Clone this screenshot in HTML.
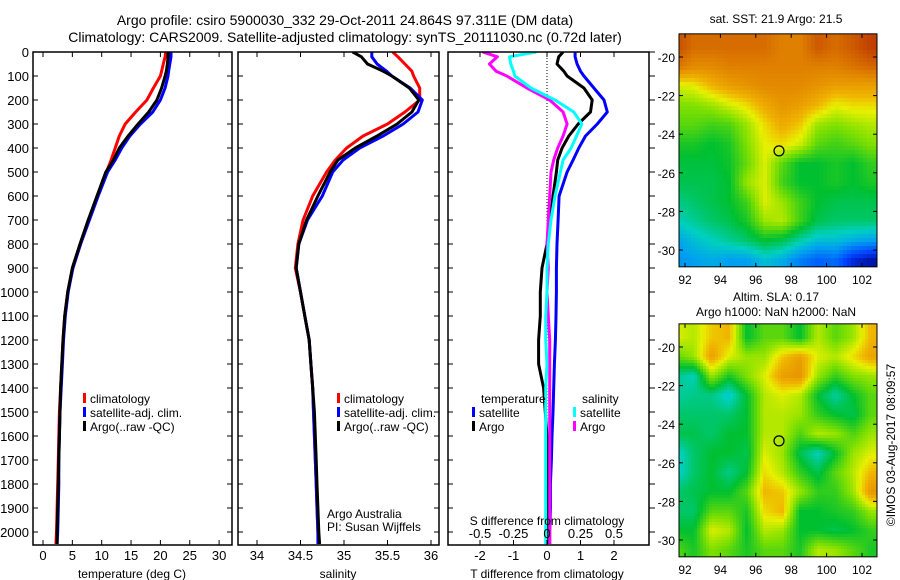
<!DOCTYPE html>
<html><head><meta charset="utf-8">
<style>
body{margin:0;background:#fff;}
svg{display:block;font-family:"Liberation Sans",sans-serif;}
text{fill:#000;}
</style></head>
<body>
<svg id="fig" width="900" height="580" viewBox="0 0 900 580" xmlns="http://www.w3.org/2000/svg">
<defs>
<clipPath id="c1"><rect x="33" y="52" width="199" height="493"/></clipPath>
<clipPath id="c2"><rect x="238" y="52" width="201" height="493"/></clipPath>
<clipPath id="c3"><rect x="448" y="52" width="201" height="493"/></clipPath>
</defs>
<text x="345" y="25" font-size="14" text-anchor="middle">Argo profile: csiro 5900030_332 29-Oct-2011 24.864S 97.311E (DM data)</text>
<text x="345" y="42" font-size="14" text-anchor="middle">Climatology: CARS2009. Satellite-adjusted climatology: synTS_20111030.nc (0.72d later)</text>
<g id="p1"></g>
<g id="p2"></g>
<g id="p3"></g>
<g id="m1"></g>
<g id="m2"></g>
<text x="776" y="23" font-size="12" text-anchor="middle">sat. SST: 21.9 Argo: 21.5</text>
<text x="776" y="301" font-size="12" text-anchor="middle">Altim. SLA: 0.17</text>
<text x="776" y="316" font-size="12" text-anchor="middle">Argo h1000: NaN h2000: NaN</text>
<text transform="translate(895,445) rotate(-90)" font-size="12" text-anchor="middle">©IMOS 03-Aug-2017 08:09:57</text>
</svg>
<script>
const depths=[0,20,50,80,100,150,200,250,300,350,400,450,500,600,700,800,900,1000,1100,1200,1300,1400,1500,1600,1700,1800,1900,2000,2050];
const tempClim=[20.9,20.8,20.5,20.2,20.0,18.8,17.7,15.8,14.0,13.0,12.3,11.6,10.8,9.3,7.8,6.4,5.1,4.2,3.7,3.4,3.2,3.0,2.8,2.7,2.6,2.5,2.4,2.3,2.2];
const tempSat=[21.8,21.8,21.6,21.4,21.3,20.8,20.0,18.7,16.6,14.8,13.4,12.3,11.0,9.4,7.9,6.4,5.1,4.3,3.8,3.5,3.3,3.1,2.9,2.8,2.7,2.7,2.6,2.5,2.4];
const tempArgo=[21.3,21.3,21.2,21.0,20.8,20.2,19.4,18.0,16.2,14.5,13.0,12.0,10.7,9.2,7.7,6.3,5.0,4.2,3.7,3.4,3.2,3.0,2.9,2.8,2.7,2.6,2.5,2.4,2.4];
const salClim=[35.56,35.62,35.7,35.78,35.8,35.87,35.87,35.7,35.5,35.22,35.03,34.9,34.8,34.64,34.53,34.47,34.44,34.5,34.55,34.6,34.62,34.64,34.65,34.66,34.67,34.68,34.69,34.7,34.71];
const salSat=[35.32,35.32,35.38,35.49,35.55,35.76,35.9,35.85,35.68,35.45,35.18,34.99,34.87,34.75,34.58,34.48,34.45,34.5,34.55,34.6,34.62,34.64,34.65,34.66,34.67,34.68,34.69,34.7,34.7];
const salArgo=[35.1,35.2,35.27,35.45,35.55,35.75,35.86,35.78,35.61,35.38,35.13,34.93,34.84,34.7,34.57,34.48,34.45,34.5,34.55,34.6,34.62,34.64,34.66,34.67,34.68,34.69,34.7,34.71,34.72];
const dTempSat=[0.84,0.84,0.9,1.0,1.1,1.4,1.7,1.8,1.5,1.15,0.95,0.78,0.6,0.36,0.33,0.3,0.28,0.28,0.27,0.25,0.22,0.2,0.18,0.15,0.13,0.1,0.1,0.08,0.08];
const dTempArgo=[0.48,0.35,0.3,0.5,0.6,1.1,1.35,1.3,0.93,0.65,0.45,0.32,0.28,0.18,0.1,0.0,-0.15,-0.2,-0.2,-0.25,-0.25,-0.1,-0.05,0.0,0.02,0.03,0.03,0.05,0.05];
const dSalSat=[-0.08,-0.28,-0.27,-0.25,-0.24,-0.12,0.06,0.2,0.26,0.22,0.18,0.12,0.1,0.06,0.03,0.01,0,0,-0.01,-0.01,0,-0.01,-0.01,-0.01,-0.01,-0.01,-0.01,-0.01,-0.01];
const dSalArgo=[-0.48,-0.37,-0.43,-0.38,-0.3,-0.15,0.02,0.12,0.15,0.12,0.08,0.05,0.03,0.02,0.01,0,0.01,0,0.01,0.02,0.02,0.02,0.02,0.02,0.02,0.02,0.02,0.02,0.02];
const depthTicks=[0,100,200,300,400,500,600,700,800,900,1000,1100,1200,1300,1400,1500,1600,1700,1800,1900,2000];
const tempTicks=[0,5,10,15,20,25,30];
const salTicks=[34,34.5,35,35.5,36];
const dTempTicks=[-2,-1,0,1,2];
const dSalTicks=[-0.5,-0.25,0,0.25,0.5];
const dSalTickLabels=["-0.5","-0.25","0","0.25","0.5"];
const mapLons=[92,94,96,98,100,102];
const mapLats=[-20,-22,-24,-26,-28,-30];
const sstGrid=[
[.9,.85,.85,.85,.85,.85,.82,.82,.88,.85,.88,.92],
[.84,.8,.8,.82,.82,.82,.82,.82,.82,.82,.84,.86],
[.64,.66,.72,.76,.78,.8,.8,.8,.78,.76,.76,.76],
[.58,.58,.6,.64,.68,.74,.78,.76,.72,.66,.68,.68],
[.55,.55,.53,.54,.6,.68,.74,.7,.6,.58,.6,.62],
[.5,.5,.48,.5,.58,.66,.68,.64,.55,.53,.55,.58],
[.47,.47,.47,.49,.56,.65,.55,.48,.48,.5,.48,.52],
[.46,.46,.46,.48,.6,.65,.53,.48,.48,.5,.48,.5],
[.42,.44,.46,.48,.53,.65,.6,.53,.48,.46,.46,.46],
[.38,.41,.44,.46,.5,.6,.62,.53,.46,.44,.44,.44],
[.3,.35,.38,.41,.44,.48,.46,.4,.35,.35,.32,.3],
[.28,.3,.32,.3,.3,.35,.32,.25,.2,.22,.1,.05]];
const slaGrid=[
[.65,.62,.7,.72,.48,.55,.55,.48,.62,.55,.6,.72],
[.55,.6,.76,.65,.6,.6,.7,.76,.65,.62,.68,.75],
[.42,.38,.6,.5,.58,.65,.76,.78,.6,.52,.58,.6],
[.4,.42,.42,.36,.48,.62,.65,.62,.48,.4,.48,.55],
[.44,.44,.44,.44,.48,.62,.62,.6,.52,.48,.46,.55],
[.46,.46,.44,.48,.48,.62,.62,.54,.62,.6,.54,.6],
[.36,.44,.48,.48,.46,.65,.6,.46,.38,.48,.6,.65],
[.36,.44,.48,.42,.48,.68,.62,.52,.46,.55,.62,.72],
[.44,.46,.48,.48,.55,.72,.7,.6,.52,.52,.6,.78],
[.44,.44,.55,.55,.5,.68,.72,.48,.48,.5,.52,.6],
[.48,.48,.65,.62,.48,.62,.6,.48,.48,.46,.48,.52],
[.55,.5,.58,.55,.5,.55,.55,.5,.62,.6,.55,.5]];
const floatLon=97.311, floatLat=-24.864;

const NS="http://www.w3.org/2000/svg";
function mk(parent,tag,attrs){const e=document.createElementNS(NS,tag);for(const k in attrs)e.setAttribute(k,attrs[k]);parent.appendChild(e);return e;}
const yD=d=>52+d*0.24;
const xT=t=>43+t*5.87;
const xS=s=>344+(s-35)*87;
const xdT=t=>547+t*33.5;
const xdS=s=>547+s*134;

function frame(g,x0,x1,ticksX,fx,labelsY,rightOut){
  const r=mk(g,'rect',{x:x0,y:52,width:x1-x0,height:493,fill:'none',stroke:'#000','stroke-width':1.5});
  
  
  depthTicks.forEach(d=>{
    mk(g,'line',{x1:x0,x2:x0+5,y1:yD(d),y2:yD(d),stroke:'#000'});
    if(rightOut) mk(g,'line',{x1:x1,x2:x1+6,y1:yD(d),y2:yD(d),stroke:'#000'});
    else mk(g,'line',{x1:x1-5,x2:x1,y1:yD(d),y2:yD(d),stroke:'#000'});
    if(labelsY){const t=mk(g,'text',{x:x0-4,y:yD(d)+5,'font-size':13,'text-anchor':'end'});t.textContent=d;
      
      }
  });
  ticksX.forEach(v=>{const x=fx(v);
    mk(g,'line',{x1:x,x2:x,y1:52,y2:57,stroke:'#000'});
    mk(g,'line',{x1:x,x2:x,y1:540,y2:545,stroke:'#000'});});
}
function line(g,xs,fx,col,name){
  const p=mk(g,'polyline',{points:xs.map((v,i)=>fx(v).toFixed(1)+','+yD(depths[i]).toFixed(1)).join(' '),fill:'none',stroke:col,'stroke-width':3,'stroke-linejoin':'round'});
  
  
}
function xlabels(g,ticks,fx,labels,y){
  ticks.forEach((v,i)=>{const t=mk(g,'text',{x:fx(v),y:y,'font-size':13,'text-anchor':'middle'});t.textContent=labels?labels[i]:String(v);
    
    });
}
function txt(g,x,y,s,size,anchor,name){const t=mk(g,'text',{x:x,y:y,'font-size':size,'text-anchor':anchor||'start'});t.textContent=s;
  
  return t;}
function legend(g,x,y,col,label){mk(g,'rect',{x:x,y:y-10,width:3,height:10,fill:col});txt(g,x+7,y,label,12,'start','legend-entry');}

// panel 1
const p1=document.getElementById('p1');
const c1=mk(p1,'g',{'clip-path':'url(#c1)'});
line(c1,tempClim,xT,'#f00','temp-climatology-line');
line(c1,tempSat,xT,'#00f','temp-satellite-line');
line(c1,tempArgo,xT,'#000','temp-argo-line');
frame(p1,33,232,tempTicks,xT,true,false);
xlabels(p1,tempTicks,xT,null,560);
txt(p1,132,578,'temperature (deg C)',12,'middle','x-axis-title');
legend(p1,83,403,'#f00','climatology');legend(p1,83,417,'#00f','satellite-adj. clim.');legend(p1,83,431,'#000','Argo(..raw -QC)');

// panel 2
const p2=document.getElementById('p2');
const c2=mk(p2,'g',{'clip-path':'url(#c2)'});
line(c2,salClim,xS,'#f00','sal-climatology-line');
line(c2,salSat,xS,'#00f','sal-satellite-line');
line(c2,salArgo,xS,'#000','sal-argo-line');
frame(p2,238,439,salTicks,xS,false,false);
xlabels(p2,salTicks,xS,["34","34.5","35","35.5","36"],560);
txt(p2,338,578,'salinity',12,'middle','x-axis-title');
legend(p2,337,403,'#f00','climatology');legend(p2,337,417,'#00f','satellite-adj. clim.');legend(p2,337,431,'#000','Argo(..raw -QC)');
txt(p2,327,518,'Argo Australia',12,'start','credit-label');
txt(p2,327,531,'PI: Susan Wijffels',12,'start','credit-label');

// panel 3
const p3=document.getElementById('p3');
mk(p3,'line',{x1:xdT(0),x2:xdT(0),y1:52,y2:545,stroke:'#000','stroke-dasharray':'1,2'});
const c3=mk(p3,'g',{'clip-path':'url(#c3)'});
line(c3,dTempSat,xdT,'#00f','temp-diff-satellite-line');
line(c3,dTempArgo,xdT,'#000','temp-diff-argo-line');
line(c3,dSalArgo,xdS,'#f0f','sal-diff-argo-line');
line(c3,dSalSat,xdS,'#0ff','sal-diff-satellite-line');
frame(p3,448,649,dTempTicks,xdT,false,true);
xlabels(p3,dTempTicks,xdT,null,560);
txt(p3,547,578,'T difference from climatology',12,'middle','x-axis-title');
xlabels(p3,dSalTicks,xdS,dSalTickLabels,538);
txt(p3,547,525,'S difference from climatology',12,'middle','s-axis-title');
txt(p3,481,403,'temperature',12,'start','legend-title');
txt(p3,582,403,'salinity',12,'start','legend-title');
legend(p3,472,417,'#00f','satellite');legend(p3,472,431,'#000','Argo');
legend(p3,573,417,'#0ff','satellite');legend(p3,573,431,'#f0f','Argo');

// maps
const stops=[[0,[0,0,128]],[.15,[0,64,255]],[.3,[0,160,240]],[.38,[0,208,192]],[.48,[0,192,48]],[.58,[128,224,0]],[.66,[232,240,0]],[.72,[240,180,0]],[.82,[224,128,0]],[.92,[192,64,0]],[1,[160,16,0]]];
function cmap(v){for(let i=1;i<stops.length;i++){if(v<=stops[i][0]){const a=stops[i-1],b=stops[i],f=(v-a[0])/(b[0]-a[0]);return 'rgb('+a[1].map((c,k)=>Math.round(c+(b[1][k]-c)*f)).join(',')+')';}}return 'rgb(160,16,0)';}
function sample(grid,fr,fc){
  const nR=grid.length,nC=grid[0].length;
  fr=Math.min(nR-1,Math.max(0,fr));fc=Math.min(nC-1,Math.max(0,fc));
  const r0=Math.floor(fr),c0=Math.floor(fc),r1=Math.min(nR-1,r0+1),c1=Math.min(nC-1,c0+1);
  const a=fr-r0,b=fc-c0;
  return grid[r0][c0]*(1-a)*(1-b)+grid[r0][c1]*(1-a)*b+grid[r1][c0]*a*(1-b)+grid[r1][c1]*a*b;
}
function drawMap(id,grid,top,step){
  const g=document.getElementById(id);
  const fx=lon=>685+(lon-92)*17.7;
  const fy=lat=>top+(-20-lat)*19.3;
  const y0=fy(-18.8),y1=y0+233;
  const cg=mk(g,'g',{'shape-rendering':'crispEdges'});
  
  
  for(let y=y0;y<y1;y+=step){for(let x=679;x<877;x+=step){
    const cx=x+step/2,cy=y+step/2;
    const lon=92+(cx-685)/17.7, lat=-20-(cy-top)/19.3;
    const v=sample(grid,(-19.5-lat),(lon-91.5));
    mk(cg,'rect',{x:x,y:y,width:Math.min(step,877-x)+0.3,height:Math.min(step,y1-y)+0.3,fill:cmap(v)});
  }}
  const fr=mk(g,'rect',{x:679,y:y0,width:198,height:233,fill:'none',stroke:'#000'});
  
  
  mapLons.forEach(l=>{const x=fx(l);mk(g,'line',{x1:x,x2:x,y1:y0,y2:y0+4,stroke:'#000'});mk(g,'line',{x1:x,x2:x,y1:y1-4,y2:y1,stroke:'#000'});
    txt(g,x,y1+17,String(l),12,'middle','lon-tick-label');});
  mapLats.forEach(l=>{const y=fy(l);mk(g,'line',{x1:679,x2:683,y1:y,y2:y,stroke:'#000'});mk(g,'line',{x1:873,x2:877,y1:y,y2:y,stroke:'#000'});
    txt(g,675,y+5,String(l),12,'end','lat-tick-label');});
  const m=mk(g,'circle',{cx:fx(floatLon),cy:fy(floatLat),r:5,fill:'none',stroke:'#000','stroke-width':1.2});
  
  
}
drawMap('m1',sstGrid,57,4);
drawMap('m2',slaGrid,347,3);
</script>
</body></html>
